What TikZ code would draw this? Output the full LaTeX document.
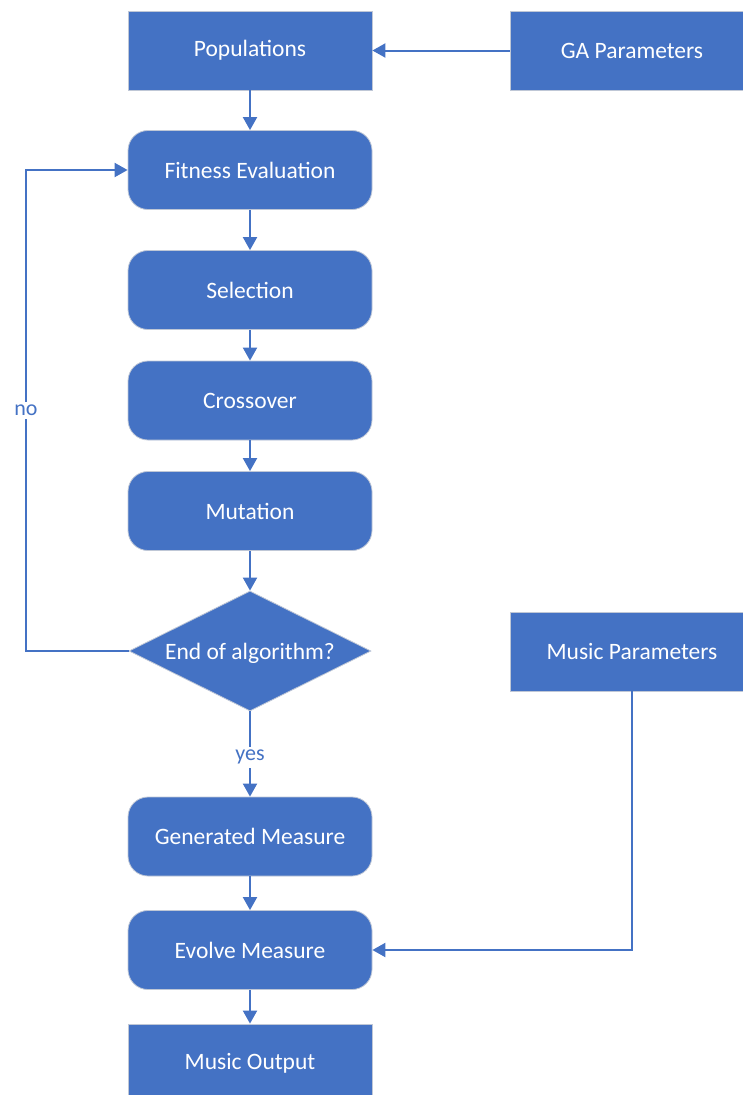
\documentclass[tikz,border=0pt]{standalone}
\usepackage{fontspec}
\setmainfont{Carlito}
\usetikzlibrary{arrows.meta,shapes.geometric}
\definecolor{accent}{HTML}{4472C4}
\definecolor{rim}{HTML}{BFC7D6}
\tikzset{
  procbox/.style={rectangle, fill=accent, draw=rim, line width=0.8pt,
    text=white, minimum width=244pt, minimum height=79pt, inner sep=0pt,
    font=\fontsize{23.5}{28}\selectfont},
  roundbox/.style={procbox, rounded corners=20pt},
  decision/.style={diamond, fill=accent, draw=rim, line width=0.8pt,
    minimum width=242pt, minimum height=120pt, inner sep=0pt},
  caption/.style={text=white, font=\fontsize{23.5}{28}\selectfont},
  flow/.style={draw=accent, line width=2pt,
    -{Triangle[width=14pt,length=13pt]}},
  lbl/.style={fill=white, text=accent, inner sep=3pt,
    font=\fontsize{22}{26}\selectfont}
}
\begin{document}
\begin{tikzpicture}[x=1pt, y=-1pt]
  \useasboundingbox (0,0) rectangle (742,1095);

  % main column
  \node[procbox]  (pop) at (250,50.5)  {Populations};
  \node[procbox]  (gap) at (632,50.5)  {GA Parameters};
  \node[roundbox] (fit) at (250,170)   {Fitness Evaluation};
  \node[roundbox] (sel) at (250,290)   {Selection};
  \node[roundbox] (crs) at (250,400.5) {Crossover};
  \node[roundbox] (mut) at (250,511)   {Mutation};
  \node[decision] (dec) at (250,651)   {};
  \node[caption]  (dect) at (250,653)  {End of algorithm?};
  \node[procbox]  (mpr) at (632,651.5) {Music Parameters};
  \node[roundbox] (gen) at (250,836.5) {Generated Measure};
  \node[roundbox] (evo) at (250,950)   {Evolve Measure};
  \node[procbox]  (out) at (250,1063.5) {Music Output};

  \coordinate (loopx) at (26,0);

  % connectors
  \draw[flow] (gap.west) -- (pop.east);
  \draw[flow] (pop.south) -- (fit.north);
  \draw[flow] (fit.south) -- (sel.north);
  \draw[flow] (sel.south) -- (crs.north);
  \draw[flow] (crs.south) -- (mut.north);
  \draw[flow] (mut.south) -- (dec.north);
  \draw[flow] (dec.west) -- (dec.west -| loopx)
     -- node[lbl, pos=0.5] {no} (fit.west -| loopx) -- (fit.west);
  \draw[flow] (dec.south) -- node[lbl, pos=0.54] {yes} (gen.north);
  \draw[flow] (gen.south) -- (evo.north);
  \draw[flow] (mpr.south) |- (evo.east);
  \draw[flow] (evo.south) -- (out.north);
\end{tikzpicture}
\end{document}
